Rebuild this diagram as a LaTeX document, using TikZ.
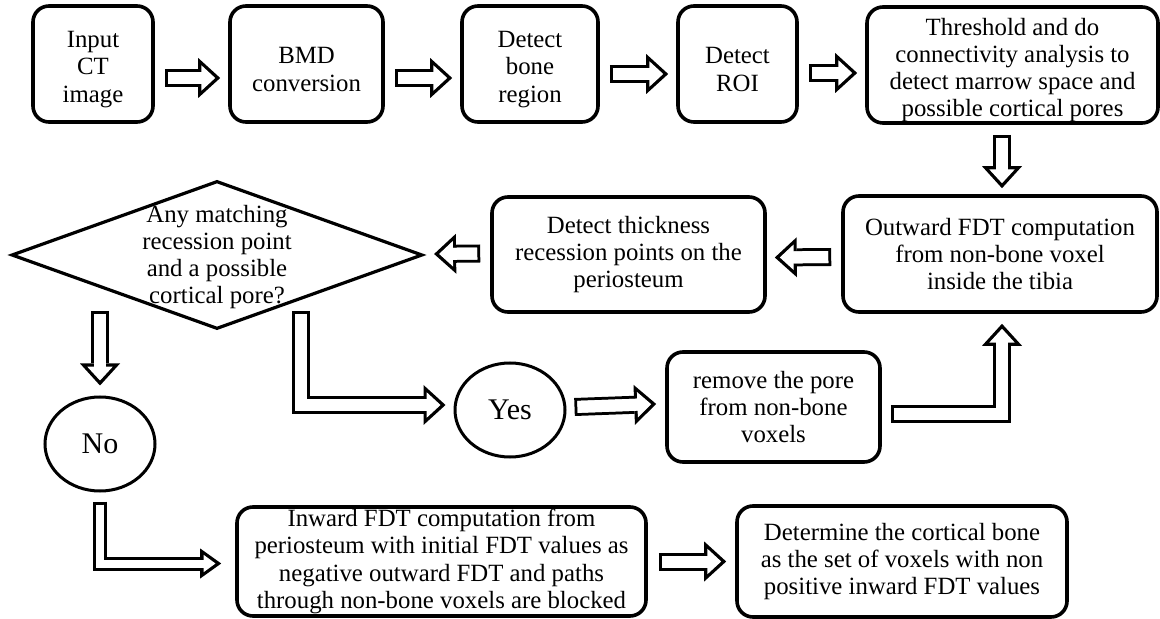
\documentclass[tikz,border=0pt]{standalone}
\usepackage{fontspec}
\setmainfont{Liberation Serif}
\usetikzlibrary{shapes.geometric,arrows.meta,calc}

\begin{document}
\begin{tikzpicture}[
  x=0.5pt, y=-0.5pt,
  every node/.style={font=\fontsize{12.4}{13.6}\selectfont},
  stepbox/.style={draw, line width=1.8pt, rounded corners=8pt, align=center, inner sep=0pt},
  decision/.style={draw, diamond, line width=1.6pt, inner sep=0pt,
    minimum width=205.5pt, minimum height=74pt},
  answer/.style={draw, ellipse, line width=1.5pt, inner sep=0pt,
    minimum width=55pt, minimum height=47pt, font=\fontsize{15}{17}\selectfont},
  fatarrow/.style={line width=9pt, -{Triangle[width=20pt,length=11pt,line width'=0pt]},
    postaction={draw=white, line width=6pt, shorten <=1.5pt, shorten >=2.5pt,
      -{Triangle[width=12.6pt,length=6.9pt,line width'=0.6pt]}},
    postaction={draw=white, line width=6pt, shorten <=1.5pt, shorten >=6pt, -}},
  slimarrow/.style={line width=7pt, -{Triangle[width=15pt,length=10.5pt,line width'=0pt]},
    postaction={draw=white, line width=4pt, shorten <=1.5pt, shorten >=2.85pt,
      -{Triangle[width=8.6pt,length=6pt,line width'=0.6pt]}},
    postaction={draw=white, line width=4pt, shorten <=1.5pt, shorten >=6pt, -}}
]
\useasboundingbox (0,0) rectangle (1160,619);

% top row
\node [stepbox, minimum width=60pt, minimum height=58pt] (in) at (93,64) {\mbox{}\\Input\\CT\\image};
\node [stepbox, minimum width=76.5pt, minimum height=58pt] (bmd) at (306.5,64) {\mbox{}\\BMD\\conversion};
\node [stepbox, minimum width=68pt, minimum height=58pt] (bone) at (530,64) {\mbox{}\\Detect\\bone\\region};
\node [stepbox, minimum width=59.5pt, minimum height=58pt] (roi) at (737.5,64) {\mbox{}\\Detect\\ROI};
\node [stepbox, minimum width=145.5pt, minimum height=58pt] (thr) at (1012.5,65)
  {\mbox{}\\Threshold and do\\connectivity analysis to\\detect marrow space and\\possible cortical pores};

% middle row
\node [stepbox, minimum width=157pt, minimum height=58pt] (out) at (1000,254)
  {Outward FDT computation\\from non-bone voxel\\inside the tibia};
\node [stepbox, minimum width=136.5pt, minimum height=57.5pt] (thick) at (628.5,254.5)
  {Detect thickness\\recession points on the\\periosteum};
\node [decision] (dec) at (217,255) {};
\node [align=center] (dectext) at (217,257)
  {Any matching\\recession point\\and a possible\\cortical pore?};

% answers
\node [answer] (no) at (100,444) {No};
\node [answer] (yes) at (510,410) {Yes};
\node [stepbox, minimum width=106.5pt, minimum height=55pt] (remove) at (773.5,407)
  {remove the pore\\from non-bone\\voxels};

% bottom row
\node [stepbox, minimum width=204.5pt, minimum height=54.5pt] (inward) at (441.5,561.5)
  {Inward FDT computation from\\periosteum with initial FDT values as\\negative outward FDT and paths\\through non-bone voxels are blocked};
\node [stepbox, minimum width=165pt, minimum height=55.5pt] (det) at (902,561.5)
  {Determine the cortical bone\\as the set of voxels with non\\positive inward FDT values};

\coordinate (decno) at (100,311);
\coordinate (decyes) at (301,311);

% arrows
\draw [fatarrow] ($(in.east)+(10,14)$) -- ($(bmd.west)+(-8,14)$);
\draw [fatarrow] ($(bmd.east)+(10,14)$) -- ($(bone.west)+(-8,14)$);
\draw [fatarrow] ($(bone.east)+(10,10)$) -- ($(roi.west)+(-8,10)$);
\draw [fatarrow] ($(roi.east)+(10,9)$) -- ($(thr.west)+(-8,8)$);
\draw [fatarrow] ($(out.north |- thr.south)+(2,10)$) -- ($(out.north)+(2,-6)$);
\draw [fatarrow] ($(out.west)+(-10,3)$) -- ($(thick.east)+(8,3)$);
\draw [fatarrow] ($(thick.west)+(-10,-1)$) -- ($(dec.east)+(10,-1)$);
\draw [fatarrow] (decno) -- ($(no.north)+(0,-10)$);
\draw [fatarrow] (decyes) |- ($(yes.west)+(-8,-5)$);
\draw [fatarrow] ($(yes.east)+(8,-3)$) -- ($(remove.west)+(-9,-3)$);
\draw [fatarrow] ($(remove.east)+(9,7)$) -| ($(out.south)+(2,10)$);
\draw [slimarrow] ($(no.south)+(0,9)$) |- ($(inward.west)+(-14,2)$);
\draw [fatarrow] ($(inward.east)+(11,0)$) -- ($(det.west)+(-9,0)$);
\end{tikzpicture}
\end{document}
